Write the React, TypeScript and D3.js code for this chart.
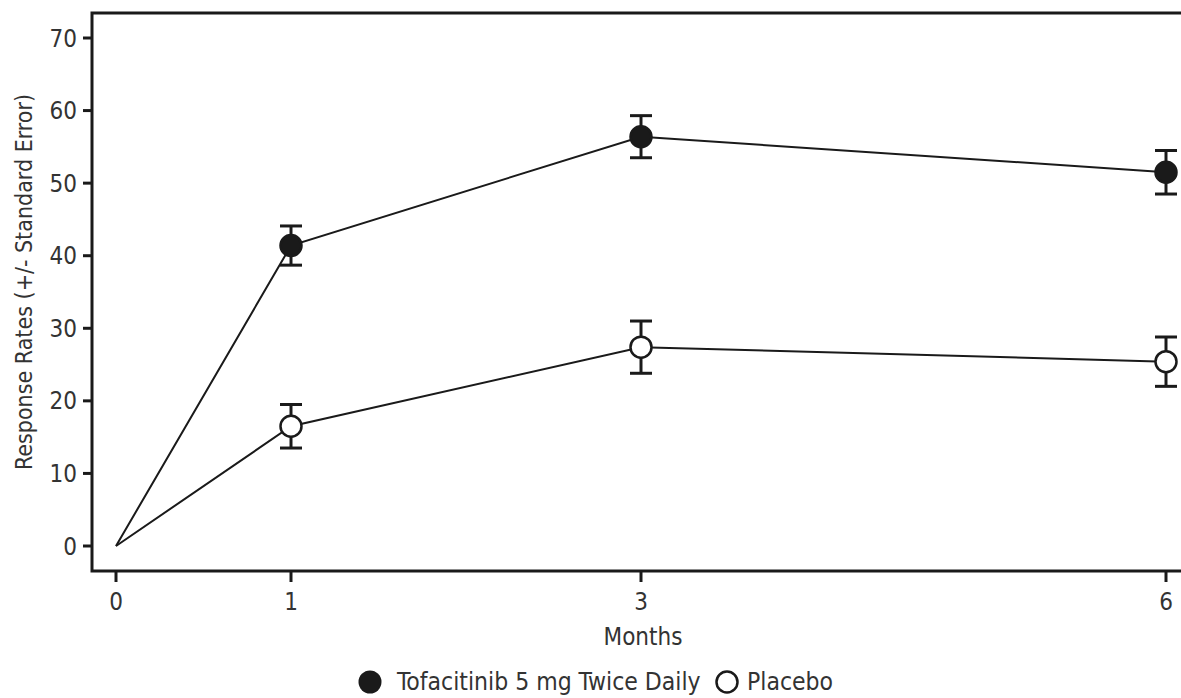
import * as d3 from "d3";
import { useRef, useEffect } from "react";

const months = [0, 1, 3, 6];
const tofaValues = [0, 41.4, 56.4, 51.5];
const tofaErr = [0, 2.7, 2.9, 3.0];
const placeboValues = [0, 16.5, 27.4, 25.4];
const placeboErr = [0, 3.0, 3.6, 3.4];
const yTicks = [0, 10, 20, 30, 40, 50, 60, 70];
const xTicks = [0, 1, 3, 6];

const W = 1181;
const H = 698;
const FONT = "'Liberation Sans Narrow', 'DejaVu Sans Condensed', 'Arial Narrow', sans-serif";
const INK = "#1a1a1a";
const TXT = "#333";

const App = () => {
  const ref = useRef<SVGSVGElement | null>(null);

  useEffect(() => {
    const svg = d3.select(ref.current);
    svg.selectAll("*").remove();

    const frame = { left: 92, top: 13, bottom: 571 };

    const x = d3.scaleLinear().domain([0, 6]).range([116, 1166]);
    const y = d3.scaleLinear().domain([0, 70]).range([546, 38]);

    // frame: top, left, bottom
    svg.append("path")
      .attr("d", `M${W + 5},${frame.top}H${frame.left}V${frame.bottom}H${W + 5}`)
      .attr("fill", "none")
      .attr("stroke", INK)
      .attr("stroke-width", 3);

    // y axis ticks
    const yAxis = svg.append("g");
    yAxis.selectAll("line")
      .data(yTicks)
      .enter()
      .append("line")
      .attr("x1", frame.left - 9)
      .attr("x2", frame.left)
      .attr("y1", d => y(d))
      .attr("y2", d => y(d))
      .attr("stroke", INK)
      .attr("stroke-width", 3);
    yAxis.selectAll("text")
      .data(yTicks)
      .enter()
      .append("text")
      .attr("x", frame.left - 15)
      .attr("y", d => y(d))
      .attr("dy", "0.36em")
      .attr("text-anchor", "end")
      .style("font-family", FONT)
      .style("font-size", "24px")
      .attr("fill", TXT)
      .text(d => d);

    // x axis ticks
    const xAxis = svg.append("g");
    xAxis.selectAll("line")
      .data(xTicks)
      .enter()
      .append("line")
      .attr("x1", d => x(d))
      .attr("x2", d => x(d))
      .attr("y1", frame.bottom)
      .attr("y2", frame.bottom + 11)
      .attr("stroke", INK)
      .attr("stroke-width", 3);
    xAxis.selectAll("text")
      .data(xTicks)
      .enter()
      .append("text")
      .attr("x", d => x(d))
      .attr("y", 601)
      .attr("dy", "0.36em")
      .attr("text-anchor", "middle")
      .style("font-family", FONT)
      .style("font-size", "24px")
      .attr("fill", TXT)
      .text(d => d);

    svg.append("text")
      .attr("x", 643)
      .attr("y", 636)
      .attr("dy", "0.36em")
      .attr("text-anchor", "middle")
      .style("font-family", FONT)
      .style("font-size", "24px")
      .attr("fill", TXT)
      .text("Months");

    svg.append("text")
      .attr("transform", "translate(24,282) rotate(-90)")
      .attr("dy", "0.36em")
      .attr("text-anchor", "middle")
      .style("font-family", FONT)
      .style("font-size", "23px")
      .attr("fill", TXT)
      .text("Response Rates (+/- Standard Error)");

    const series = [
      { values: tofaValues, err: tofaErr, fill: INK },
      { values: placeboValues, err: placeboErr, fill: "#fff" },
    ];

    const line = d3.line<number>()
      .x((d, i) => x(months[i]))
      .y(d => y(d));

    series.forEach(s => {
      svg.append("path")
        .datum(s.values)
        .attr("d", line)
        .attr("fill", "none")
        .attr("stroke", INK)
        .attr("stroke-width", 2);

      const pts = s.values.map((v, i) => ({ m: months[i], v, e: s.err[i] })).filter(p => p.m > 0);
      const g = svg.append("g");
      pts.forEach(p => {
        const cx = x(p.m);
        g.append("line")
          .attr("x1", cx).attr("x2", cx)
          .attr("y1", y(p.v + p.e)).attr("y2", y(p.v - p.e))
          .attr("stroke", INK).attr("stroke-width", 3);
        [p.v + p.e, p.v - p.e].forEach(c => {
          g.append("line")
            .attr("x1", cx - 11).attr("x2", cx + 11)
            .attr("y1", y(c)).attr("y2", y(c))
            .attr("stroke", INK).attr("stroke-width", 3);
        });
        g.append("circle")
          .attr("cx", cx)
          .attr("cy", y(p.v))
          .attr("r", 10.5)
          .attr("fill", s.fill)
          .attr("stroke", INK)
          .attr("stroke-width", 2.5);
      });
    });

    // legend
    const lg = svg.append("g");
    lg.append("circle").attr("cx", 370).attr("cy", 682).attr("r", 11.5).attr("fill", INK);
    lg.append("text")
      .attr("x", 397).attr("y", 682).attr("dy", "0.34em")
      .style("font-family", FONT).style("font-size", "24.5px")
      .attr("fill", TXT)
      .text("Tofacitinib 5 mg Twice Daily");
    lg.append("circle").attr("cx", 727).attr("cy", 682).attr("r", 10.5)
      .attr("fill", "#fff").attr("stroke", INK).attr("stroke-width", 2.5);
    lg.append("text")
      .attr("x", 747).attr("y", 682).attr("dy", "0.34em")
      .style("font-family", FONT).style("font-size", "24.5px")
      .attr("fill", TXT)
      .text("Placebo");
  }, []);

  return (
    <svg
      ref={ref}
      width={W}
      height={H}
      style={{ position: "absolute", left: 0, top: 0, background: "#fff" }}
    ></svg>
  );
};

export default App;
